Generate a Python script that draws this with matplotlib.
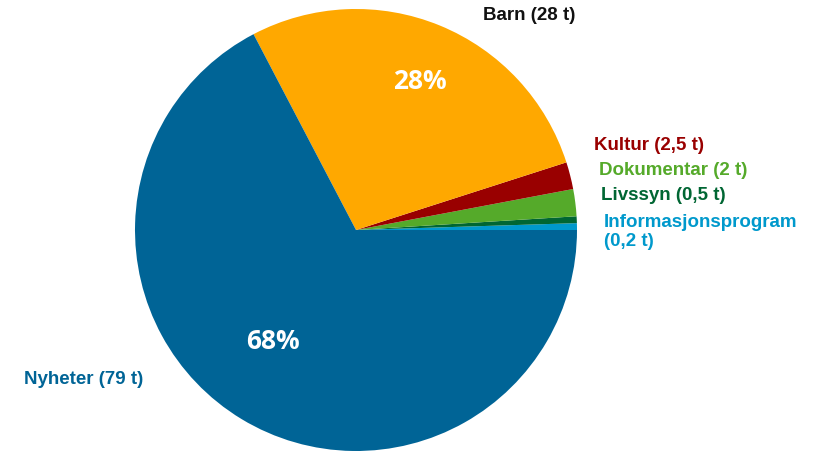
import matplotlib
matplotlib.use('Agg')
import matplotlib.pyplot as plt

# share of broadcast hours (wedge sizes)
categories = ['Nyheter', 'Barn', 'Kultur', 'Dokumentar', 'Livssyn', 'Informasjonsprogram']
shares = [68, 28, 2, 2, 0.5, 0.5]
hours = ['79', '28', '2,5', '2', '0,5', '0,2']
pct_labels = ['68%', '28%', '', '', '', '']
colors = ['#006496', '#FFA800', '#990000', '#55AA2A', '#006633', '#0099CC']

W, H = 820, 452
fig = plt.figure(figsize=(W / 100, H / 100), dpi=100)

# pie centre at (356, 231) px, radius 221 px
cx, cy, r = 356, 231, 221
ax = fig.add_axes([(cx - r) / W, (H - cy - r) / H, 2 * r / W, 2 * r / H])
# order counter-clockwise from 3 o'clock: small ones first, then Barn, then Nyheter
order = [5, 4, 3, 2, 1, 0]
ax.pie([shares[i] for i in order], colors=[colors[i] for i in order],
       startangle=0, counterclock=True, radius=1,
       wedgeprops=dict(linewidth=0))
ax.set_xlim(-1, 1)
ax.set_ylim(-1, 1)
ax.set_aspect('equal')
ax.axis('off')

lab_font = dict(family=['Liberation Sans', 'DejaVu Sans'], fontweight='bold', fontsize=13.5)


def ftext(x, y, s, **kw):
    fig.text(x / W, 1 - y / H, s, **kw)


# outer labels (pixel positions of left edge / vertical centre)
label_pos = {
    'Nyheter': (24, 380),
    'Barn': (483, 16),
    'Kultur': (594, 145),
    'Dokumentar': (599, 171),
    'Livssyn': (601, 196),
    'Informasjonsprogram': (604, 232),
}
text_colors = {
    'Nyheter': '#006496',
    'Barn': '#111111',
    'Kultur': '#990000',
    'Dokumentar': '#55AA2A',
    'Livssyn': '#006633',
    'Informasjonsprogram': '#0099CC',
}
for name, h in zip(categories, hours):
    x, y = label_pos[name]
    if name == 'Informasjonsprogram':
        s = name + '\n(' + h + ' t)'
    else:
        s = name + ' (' + h + ' t)'
    ftext(x, y, s, ha='left', va='center', color=text_colors[name],
          linespacing=1.1, **lab_font)

# percentages inside the big wedges
pct_pos = {'Nyheter': (273, 342), 'Barn': (420, 82)}
for name, p in zip(categories, pct_labels):
    if p:
        x, y = pct_pos[name]
        ftext(x, y, p, ha='center', va='center', color='white',
              family=['Open Sans', 'DejaVu Sans'], fontweight='bold', fontsize=19)

fig.savefig('out.png', dpi=100)
